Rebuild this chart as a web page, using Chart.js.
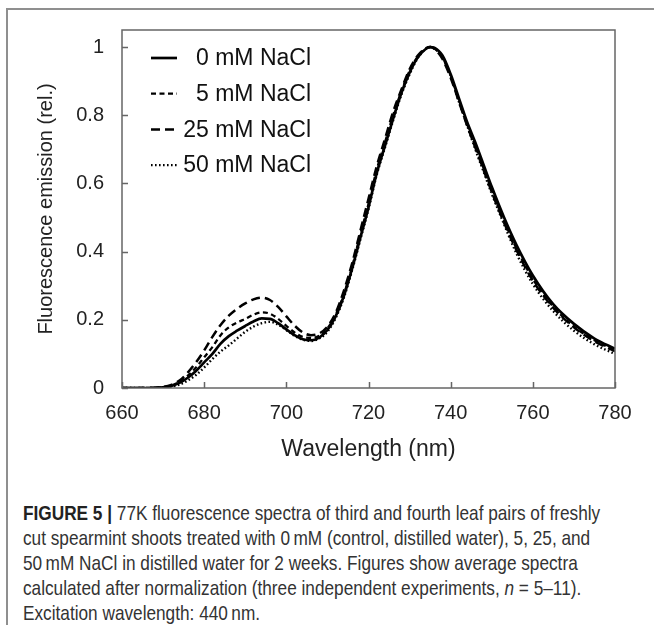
<!DOCTYPE html>
<html>
<head>
<meta charset="utf-8">
<script src="https://cdn.jsdelivr.net/npm/chart.js@4.4.1/dist/chart.umd.min.js"></script>
<style>
  html, body { margin: 0; padding: 0; background: #fff; }
  body { width: 654px; height: 625px; overflow: hidden; position: relative; }
  #frame { position: absolute; left: 6px; top: 8px; width: 720px; height: 700px; border: 2px solid #8f8f8f; }
  #wrap { position: absolute; left: 0; top: 0; width: 654px; height: 480px; }
  #caption {
    position: absolute; left: 23px; top: 500px;
    font-family: "Liberation Sans", Arial, sans-serif; font-size: 21px; line-height: 25px;
    color: #333; white-space: pre;
    transform: scaleX(0.82); transform-origin: left top;
  }
  #caption b { color: #222; }
</style>
</head>
<body>
<div id="frame"></div>
<div id="wrap"><canvas id="grafica" width="654" height="480"></canvas></div>
<div id="caption"><b>FIGURE 5 |</b> 77K fluorescence spectra of third and fourth leaf pairs of freshly
cut spearmint shoots treated with 0&#8239;mM (control, distilled water), 5, 25, and
50&#8239;mM NaCl in distilled water for 2 weeks. Figures show average spectra
calculated after normalization (three independent experiments, <i>n</i> = 5–11).
Excitation wavelength: 440&#8239;nm.</div>
<script>
// datos
const wavelengths = [660, 665, 670, 672, 674, 676, 678, 680, 682, 684, 686, 688, 690, 692, 694, 696, 698,
  700, 702, 704, 706, 708, 710, 712, 714, 716, 718, 720, 722, 724, 726, 728, 730, 732, 734, 735, 736,
  738, 740, 742, 744, 746, 748, 750, 753, 756, 760, 765, 770, 775, 780];

const nacl0 = [0, 0, 0.002, 0.006, 0.015, 0.03, 0.05, 0.075, 0.1, 0.13, 0.152, 0.168, 0.182, 0.195, 0.204, 0.203, 0.19,
  0.172, 0.155, 0.143, 0.14, 0.148, 0.17, 0.21, 0.27, 0.35, 0.44, 0.53, 0.63, 0.71, 0.79, 0.865, 0.925, 0.97, 0.995, 1.0, 0.998,
  0.975, 0.92, 0.85, 0.78, 0.72, 0.655, 0.59, 0.5, 0.42, 0.33, 0.245, 0.188, 0.145, 0.115];

const nacl5 = [0, 0, 0.002, 0.007, 0.018, 0.036, 0.06, 0.09, 0.12, 0.155, 0.178, 0.192, 0.203, 0.215, 0.222, 0.218, 0.203,
  0.182, 0.163, 0.15, 0.147, 0.153, 0.175, 0.215, 0.275, 0.355, 0.45, 0.54, 0.64, 0.72, 0.8, 0.87, 0.93, 0.972, 0.996, 1.0, 0.996,
  0.97, 0.915, 0.845, 0.775, 0.71, 0.645, 0.58, 0.49, 0.41, 0.32, 0.238, 0.18, 0.14, 0.11];

const nacl25 = [0, 0, 0.003, 0.009, 0.022, 0.045, 0.075, 0.11, 0.15, 0.185, 0.212, 0.232, 0.248, 0.26, 0.265, 0.258, 0.238,
  0.21, 0.183, 0.163, 0.155, 0.16, 0.18, 0.22, 0.285, 0.365, 0.46, 0.555, 0.65, 0.73, 0.81, 0.875, 0.935, 0.975, 0.997, 1.0, 0.995,
  0.965, 0.91, 0.84, 0.77, 0.705, 0.64, 0.575, 0.485, 0.405, 0.315, 0.235, 0.178, 0.137, 0.108];

const nacl50 = [0, 0, 0.001, 0.004, 0.01, 0.022, 0.038, 0.06, 0.085, 0.107, 0.125, 0.145, 0.165, 0.18, 0.19, 0.194, 0.186,
  0.17, 0.153, 0.142, 0.138, 0.145, 0.165, 0.205, 0.265, 0.345, 0.435, 0.525, 0.625, 0.705, 0.785, 0.86, 0.92, 0.968, 0.995, 1.0, 0.996,
  0.97, 0.915, 0.84, 0.77, 0.7, 0.635, 0.57, 0.48, 0.395, 0.305, 0.225, 0.168, 0.128, 0.1];

const seriesLabels = ["0 mM NaCl", "5 mM NaCl", "25 mM NaCl", "50 mM NaCl"];
const xTicks = [660, 680, 700, 720, 740, 760, 780];
const yTicks = [0, 0.2, 0.4, 0.6, 0.8, 1];

const estilos = [
  { dash: [], width: 2.7 },
  { dash: [5, 3.5], width: 2.3 },
  { dash: [9, 5], width: 2.5 },
  { dash: [1.6, 2.4], width: 2.4 },
];

function puntos(arr) {
  return wavelengths.map((w, i) => ({ x: w, y: arr[i] }));
}

// caja, ticks hacia adentro y leyenda
const marco = {
  id: "marco",
  afterDraw(chart) {
    const ctx = chart.ctx;
    const a = chart.chartArea;
    const sx = chart.scales.x, sy = chart.scales.y;
    ctx.save();
    ctx.strokeStyle = "#666";
    ctx.lineWidth = 1.5;
    ctx.strokeRect(a.left, a.top, a.right - a.left, a.bottom - a.top);
    ctx.beginPath();
    xTicks.forEach((v) => {
      const px = Math.round(sx.getPixelForValue(v)) + 0.5;
      ctx.moveTo(px, a.bottom);
      ctx.lineTo(px, a.bottom - 6);
    });
    yTicks.forEach((v) => {
      const py = Math.round(sy.getPixelForValue(v)) + 0.5;
      ctx.moveTo(a.left, py);
      ctx.lineTo(a.left + 6, py);
    });
    ctx.stroke();

    // leyenda
    ctx.font = "23px 'Liberation Sans', Arial, sans-serif";
    ctx.textAlign = "right";
    ctx.textBaseline = "middle";
    chart.data.datasets.forEach((ds, i) => {
      const y = 58 + i * 35.7;
      ctx.strokeStyle = "#000";
      ctx.lineWidth = ds.borderWidth;
      ctx.setLineDash(ds.borderDash);
      ctx.beginPath();
      ctx.moveTo(151, y);
      ctx.lineTo(177, y);
      ctx.stroke();
      ctx.setLineDash([]);
      ctx.fillStyle = "#111";
      ctx.fillText(ds.label, 311, y + 1);
    });
    ctx.restore();
  },
};

const ctx = document.getElementById("grafica");

new Chart(ctx, {
  type: "line",
  data: {
    datasets: [nacl0, nacl5, nacl25, nacl50].map((arr, i) => ({
      label: seriesLabels[i],
      data: puntos(arr),
      borderColor: "#000",
      borderWidth: estilos[i].width,
      borderDash: estilos[i].dash,
      pointRadius: 0,
      fill: false,
      cubicInterpolationMode: "monotone",
    })),
  },
  options: {
    responsive: false,
    animation: false,
    layout: { padding: { top: 30, right: 39, left: 0, bottom: 0 } },
    plugins: { legend: { display: false }, tooltip: { enabled: false } },
    scales: {
      x: {
        type: "linear",
        min: 660,
        max: 780,
        afterBuildTicks: (s) => { s.ticks = xTicks.map((v) => ({ value: v })); },
        afterFit: (s) => { s.height = 92; s.paddingLeft = 0; s.paddingRight = 0; },
        grid: { display: false, drawTicks: false },
        border: { display: false },
        ticks: { color: "#222", padding: 13, maxRotation: 0, font: { size: 20, family: "'Liberation Sans', Arial" } },
        title: {
          display: true,
          text: "Wavelength (nm)",
          color: "#222",
          font: { size: 23, family: "'Liberation Sans', Arial" },
          padding: { top: 0, bottom: 17 },
        },
      },
      y: {
        min: 0,
        max: 1.05,
        afterBuildTicks: (s) => { s.ticks = yTicks.map((v) => ({ value: v })); },
        afterFit: (s) => { s.width = 122; s.paddingTop = 0; s.paddingBottom = 0; },
        grid: { display: false, drawTicks: false },
        border: { display: false },
        ticks: {
          color: "#222",
          padding: 18,
          font: { size: 20, family: "'Liberation Sans', Arial" },
          callback: (v) => String(Math.round(v * 10) / 10),
        },
        title: {
          display: true,
          text: "Fluorescence emission (rel.)",
          color: "#222",
          font: { size: 20, family: "'Liberation Sans', Arial" },
          padding: { top: 34, bottom: 0 },
        },
      },
    },
  },
  plugins: [marco],
});
</script>
</body>
</html>
